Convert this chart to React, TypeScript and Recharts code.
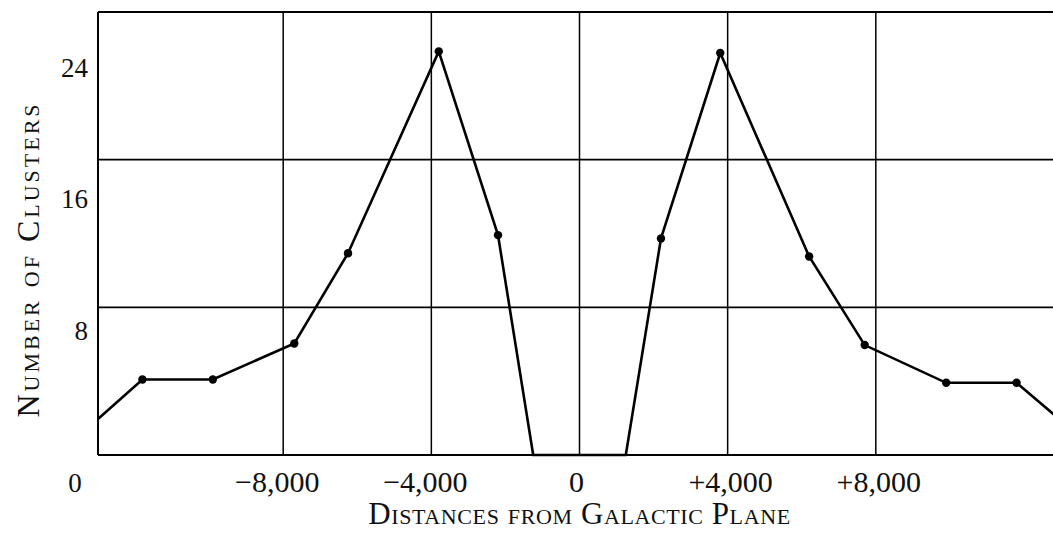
import { LineChart, Line, XAxis, YAxis, ReferenceLine } from 'recharts'

// distance from galactic plane (readings)
const distances = [-13000, -11800, -9900, -7700, -6250, -3800, -2200, -1250, 1250, 2200, 3800, 6200, 7700, 9900, 11800, 13000]
// number of clusters at each distance
const clusters = [2.2, 4.6, 4.6, 6.8, 12.3, 24.6, 13.4, 0, 0, 13.2, 24.5, 12.1, 6.7, 4.4, 4.4, 2.1]

const xTicks = [-8000, -4000, 0, 4000, 8000]
const yTicks = [0, 8, 16, 24]
const xGrid = [-13000, -8000, -4000, 0, 4000, 8000]
const yGrid = [9, 18, 27]

const data = distances.map((x, i) => ({ x, n: clusters[i] }))

const FONT = '"Liberation Serif", "DejaVu Serif", serif'

const fmtX = (v: number) => {
  if (v === 0) return '0'
  const s = Math.abs(v).toLocaleString('en-US')
  return v < 0 ? `\u2212${s}` : `+${s}`
}

const XTick = ({ x, y, payload }: any) => (
  <text x={x + (payload.value < 0 ? -6 : payload.value > 0 ? 3 : -3)} y={y + 37} textAnchor="middle" fontFamily={FONT} fontSize={30} fill="#111">
    {fmtX(payload.value)}
  </text>
)

const YTick = ({ x, y, payload }: any) => {
  // the origin "0" is printed below the corner of the frame
  if (payload.value === 0) {
    return (
      <text x={x - 23} y={y + 37} textAnchor="middle" fontFamily={FONT} fontSize={27} fill="#111">
        0
      </text>
    )
  }
  return (
    <text x={x - 10} y={y + 16} textAnchor="end" fontFamily={FONT} fontSize={27} fill="#111">
      {payload.value}
    </text>
  )
}

const Dot = (props: any) => {
  const { cx, cy, index, payload } = props
  if (index === 0 || index === data.length - 1 || payload.n === 0) return <g key={index} />
  return <circle key={index} cx={cx} cy={cy} r={4.2} fill="#000" />
}

export default function App() {
  return (
    <div style={{ position: 'absolute', left: 0, top: 0, width: 1053, height: 533, overflow: 'hidden', background: '#fff' }}>
      <LineChart width={1061} height={533} data={data} margin={{ top: 12, right: 0, bottom: 0, left: 0 }}>
        <XAxis
          type="number"
          dataKey="x"
          domain={[-13000, 13000]}
          ticks={xTicks}
          tick={<XTick />}
          tickLine={false}
          tickSize={0}
          tickMargin={0}
          height={78}
          axisLine={{ stroke: '#000', strokeWidth: 1.8 }}
          label={{
            content: (p: any) => {
              const vb = p.viewBox
              return (
                <text x={vb.x + vb.width / 2} y={vb.y + 69} textAnchor="middle" fontFamily={FONT} fontSize={31} letterSpacing={0.6} fill="#111" style={{ fontVariant: 'small-caps' }}>
                  Distances from Galactic Plane
                </text>
              )
            },
          }}
        />
        <YAxis
          type="number"
          domain={[0, 27]}
          ticks={yTicks}
          tick={<YTick />}
          tickLine={false}
          tickSize={0}
          tickMargin={0}
          width={98}
          axisLine={{ stroke: '#000', strokeWidth: 2 }}
          label={{
            content: (p: any) => {
              const vb = p.viewBox
              const cx = vb.x + 28
              const cy = vb.y + vb.height / 2 + 26
              return (
                <text x={cx} y={cy} transform={`rotate(-90, ${cx}, ${cy})`} textAnchor="middle" dominantBaseline="central" fontFamily={FONT} fontSize={32} letterSpacing={3} fill="#111" style={{ fontVariant: 'small-caps' }}>
                  Number of Clusters
                </text>
              )
            },
          }}
        />
        {xGrid.map((v) => (
          <ReferenceLine key={`vx${v}`} x={v} stroke="#000" strokeWidth={v === -13000 ? 2 : 1.5} />
        ))}
        {yGrid.map((v) => (
          <ReferenceLine key={`hy${v}`} y={v} stroke="#000" strokeWidth={v === 27 ? 2 : 1.6} />
        ))}
        <Line
          type="linear"
          dataKey="n"
          stroke="#000"
          strokeWidth={2.6}
          dot={<Dot />}
          activeDot={false}
          isAnimationActive={false}
        />
      </LineChart>
    </div>
  )
}
